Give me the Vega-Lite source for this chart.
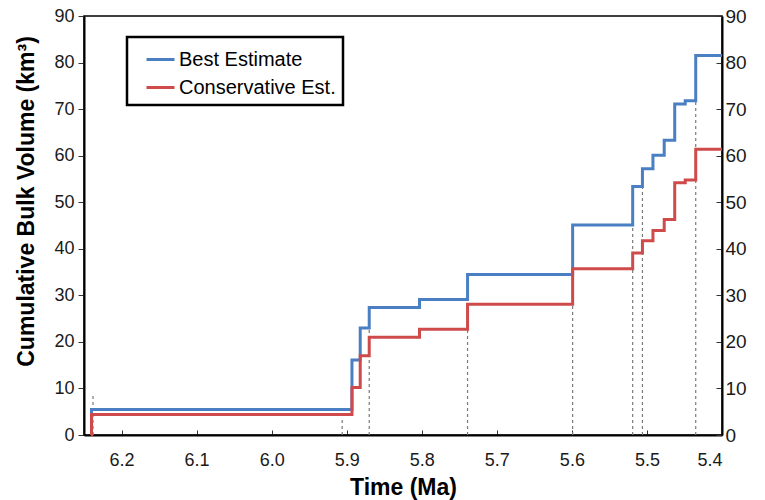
{
  "$schema": "https://vega.github.io/schema/vega-lite/v6.json",
  "width": 638,
  "height": 419,
  "autosize": "none",
  "padding": {"left": 84, "top": 16, "right": 43, "bottom": 65},
  "background": "white",
  "config": {
    "font": "Liberation Sans",
    "view": {"stroke": "#000", "strokeWidth": 1.5},
    "axis": {
      "domainColor": "#000", "domainWidth": 2, "tickColor": "#333", "tickWidth": 1,
      "labelFont": "Liberation Sans", "labelFontSize": 18, "labelColor": "#1a1a1a",
      "titleFont": "Liberation Sans", "titleFontSize": 23, "titleFontWeight": "bold", "titleColor": "#000",
      "grid": false
    },
    "legend": {
      "labelFont": "Liberation Sans", "labelFontSize": 20, "labelColor": "#000"
    }
  },
  "datasets": {
    "lines": [
      {"series": "Best Estimate", "t": 6.2405, "v": 0},
      {"series": "Best Estimate", "t": 6.24, "v": 5.5},
      {"series": "Best Estimate", "t": 5.893, "v": 16.1},
      {"series": "Best Estimate", "t": 5.882, "v": 23.0},
      {"series": "Best Estimate", "t": 5.870, "v": 27.4},
      {"series": "Best Estimate", "t": 5.803, "v": 29.1},
      {"series": "Best Estimate", "t": 5.739, "v": 34.5},
      {"series": "Best Estimate", "t": 5.599, "v": 45.1},
      {"series": "Best Estimate", "t": 5.519, "v": 53.4},
      {"series": "Best Estimate", "t": 5.506, "v": 57.2},
      {"series": "Best Estimate", "t": 5.492, "v": 60.1},
      {"series": "Best Estimate", "t": 5.477, "v": 63.3},
      {"series": "Best Estimate", "t": 5.463, "v": 71.1},
      {"series": "Best Estimate", "t": 5.449, "v": 71.8},
      {"series": "Best Estimate", "t": 5.435, "v": 81.5},
      {"series": "Best Estimate", "t": 5.4, "v": 81.5},
      {"series": "Conservative Est.", "t": 6.2405, "v": 0},
      {"series": "Conservative Est.", "t": 6.24, "v": 4.4},
      {"series": "Conservative Est.", "t": 5.893, "v": 10.2},
      {"series": "Conservative Est.", "t": 5.882, "v": 17.0},
      {"series": "Conservative Est.", "t": 5.870, "v": 21.0},
      {"series": "Conservative Est.", "t": 5.803, "v": 22.7},
      {"series": "Conservative Est.", "t": 5.739, "v": 28.1},
      {"series": "Conservative Est.", "t": 5.599, "v": 35.7},
      {"series": "Conservative Est.", "t": 5.519, "v": 39.1},
      {"series": "Conservative Est.", "t": 5.506, "v": 41.7},
      {"series": "Conservative Est.", "t": 5.492, "v": 43.9},
      {"series": "Conservative Est.", "t": 5.477, "v": 46.3},
      {"series": "Conservative Est.", "t": 5.463, "v": 54.2},
      {"series": "Conservative Est.", "t": 5.449, "v": 54.8},
      {"series": "Conservative Est.", "t": 5.435, "v": 61.4},
      {"series": "Conservative Est.", "t": 5.4, "v": 61.4}
    ],
    "markers": [
      {"t": 6.238, "lo": 0, "hi": 8.6},
      {"t": 5.906, "lo": 0, "hi": 3.7},
      {"t": 5.870, "lo": 0, "hi": 23},
      {"t": 5.739, "lo": 0, "hi": 28},
      {"t": 5.599, "lo": 0, "hi": 45},
      {"t": 5.519, "lo": 0, "hi": 45},
      {"t": 5.506, "lo": 0, "hi": 57},
      {"t": 5.435, "lo": 0, "hi": 72}
    ]
  },
  "layer": [
    {
      "data": {"name": "markers"},
      "mark": {"type": "rule", "color": "#7a7a7a", "strokeWidth": 1.2, "strokeDash": [3, 3]},
      "encoding": {
        "x": {
          "field": "t", "type": "quantitative",
          "scale": {"domain": [5.4, 6.25], "reverse": true, "nice": false, "zero": false},
          "axis": {
            "title": "Time (Ma)", "values": [6.2, 6.1, 6.0, 5.9, 5.8, 5.7, 5.6, 5.5, 5.4], "format": ".1f",
            "tickSize": -5, "labelPadding": 21, "titleBaseline": "alphabetic", "titleY": 59, "titleX": 319
          }
        },
        "y": {"field": "lo", "type": "quantitative", "scale": {"domain": [0, 90], "nice": false}, "axis": null},
        "y2": {"field": "hi"}
      }
    },
    {
      "data": {"name": "lines"},
      "mark": {"type": "line", "interpolate": "step-after", "strokeWidth": 3},
      "encoding": {
        "x": {
          "field": "t", "type": "quantitative",
          "scale": {"domain": [5.4, 6.25], "reverse": true, "nice": false, "zero": false},
          "axis": {
            "title": "Time (Ma)", "values": [6.2, 6.1, 6.0, 5.9, 5.8, 5.7, 5.6, 5.5, 5.4], "format": ".1f",
            "tickSize": -5, "labelPadding": 21, "titleBaseline": "alphabetic", "titleY": 59, "titleX": 319
          }
        },
        "y": {
          "field": "v", "type": "quantitative",
          "scale": {"domain": [0, 90], "nice": false},
          "axis": {
            "title": "Cumulative Bulk Volume (km³)", "values": [0, 10, 20, 30, 40, 50, 60, 70, 80, 90],
            "tickSize": 6, "labelPadding": 4, "titleBaseline": "middle", "titleX": -58, "titleY": 185, "titleAngle": -90
          }
        },
        "order": {"field": "t", "type": "quantitative", "sort": "descending"},
        "color": {
          "field": "series", "type": "nominal",
          "scale": {"domain": ["Best Estimate", "Conservative Est."], "range": ["#4a7fc3", "#cf4a4a"]},
          "legend": {
            "title": null, "orient": "none", "legendX": 43, "legendY": 21,
            "symbolType": "stroke", "symbolSize": 784, "symbolStrokeWidth": 3,
            "labelOffset": 3, "symbolOffset": 11, "padding": 7, "rowPadding": 2,
            "strokeColor": "#000", "fillColor": "#fff", "cornerRadius": 0,
            "encode": {"legend": {"update": {"strokeWidth": {"value": 2.5}}}}
          }
        }
      }
    },
    {
      "data": {"name": "lines"},
      "mark": {"type": "point", "opacity": 0},
      "encoding": {
        "x": {
          "field": "t", "type": "quantitative",
          "scale": {"domain": [5.4, 6.25], "reverse": true, "nice": false, "zero": false},
          "axis": {
            "title": "Time (Ma)", "values": [6.2, 6.1, 6.0, 5.9, 5.8, 5.7, 5.6, 5.5, 5.4], "format": ".1f",
            "tickSize": -5, "labelPadding": 21, "titleBaseline": "alphabetic", "titleY": 59, "titleX": 319
          }
        },
        "y": {
          "field": "v", "type": "quantitative", "scale": {"domain": [0, 90], "nice": false},
          "axis": {
            "orient": "right", "title": null, "values": [0, 10, 20, 30, 40, 50, 60, 70, 80, 90],
            "tickSize": -6, "labelPadding": 9, "labelFontSize": 19
          }
        }
      }
    }
  ],
  "resolve": {"axis": {"y": "independent"}}
}
